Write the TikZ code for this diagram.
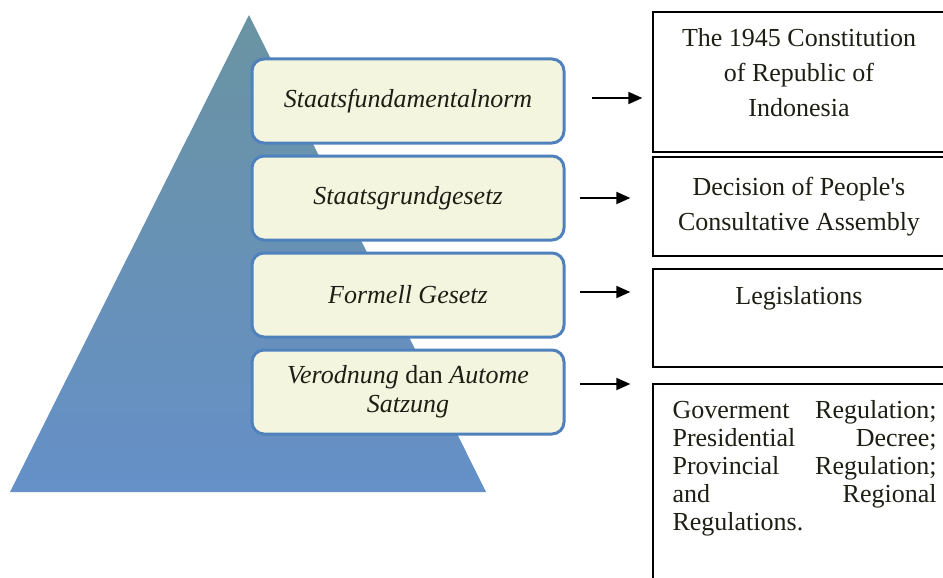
\documentclass[tikz,border=0pt]{standalone}
\usepackage{fontspec}
\setmainfont{Liberation Serif}
\usepackage{tikz}
\usetikzlibrary{arrows.meta,positioning,calc}
\definecolor{FrameBlue}{HTML}{4F81BD}
\definecolor{CreamSoft}{HTML}{F4F5DF}
\definecolor{TriTop}{HTML}{6A93A2}
\definecolor{TriBottom}{HTML}{6590C8}
\definecolor{InkDark}{HTML}{1E1E14}

\begin{document}
\begin{tikzpicture}[x=1pt,y=-1pt,
  every node/.style={font=\fontsize{26}{35}\selectfont,text=InkDark},
  normbox/.style={draw=FrameBlue,line width=3pt,fill=CreamSoft,rounded corners=12pt,
    minimum width=312pt,minimum height=84pt,align=center,
    font=\fontsize{26}{29}\selectfont\itshape},
  lawbox/.style={draw=black,line width=1.3pt,minimum width=292pt,inner sep=0pt,align=center},
  lawtext/.style={inner sep=0pt,align=center},
  pointer/.style={-{Triangle[length=14pt,width=12pt]},line width=1.8pt}]
  \useasboundingbox (0,0) rectangle (943,578);
  \clip (0,0) rectangle (943,578);
  % pyramid
  \shade[top color=TriTop,bottom color=TriBottom] (10,492) -- (249,15) -- (486,492) -- cycle;
  % levels of norms
  \foreach \i/\y/\txt in {1/101/Staatsfundamentalnorm,2/198/Staatsgrundgesetz,3/295/Formell Gesetz,
      4/392/{Verodnung {\upshape dan} Autome\\Satzung}}{
    \node[normbox] (norm\i) at (408,\y) {\txt};
  }
  % Indonesian counterparts
  \node[lawbox,minimum height=140pt] (law1) at (799,82) {};
  \node[lawtext,below=17pt of law1.north] (txt1) {The 1945 Constitution\\of Republic of\\Indonesia};
  \node[lawbox,minimum height=99pt] (law2) at (799,206.5) {Decision of People\textquotesingle s\\Consultative Assembly};
  \node[lawbox,minimum height=98pt] (law3) at (799,318) {};
  \node[lawtext,below=18pt of law3.north] (txt3) {Legislations};
  \node[lawbox,minimum height=236pt] (law4) at (799,502) {};
  \node[lawtext,align=left,text width=264pt,font=\fontsize{26}{28}\selectfont,anchor=north west]
    (txt4) at ($(law4.north west)+(20,17)$)
    {Goverment\hfill Regulation;\\Presidential\hfill Decree;\\Provincial\hfill Regulation;\\and\hfill Regional\\Regulations.};
  % arrows
  \foreach \i/\s/\e/\dy in {1/26/10/-3,2/14/22/0,3/14/22/-3,4/14/22/-8}{
    \draw[pointer,shorten <=\s pt,shorten >=\e pt] ($(norm\i.east)+(0,\dy)$) -- ($(norm\i.east -| law\i.west)+(0,\dy)$);
  }
\end{tikzpicture}
\end{document}
